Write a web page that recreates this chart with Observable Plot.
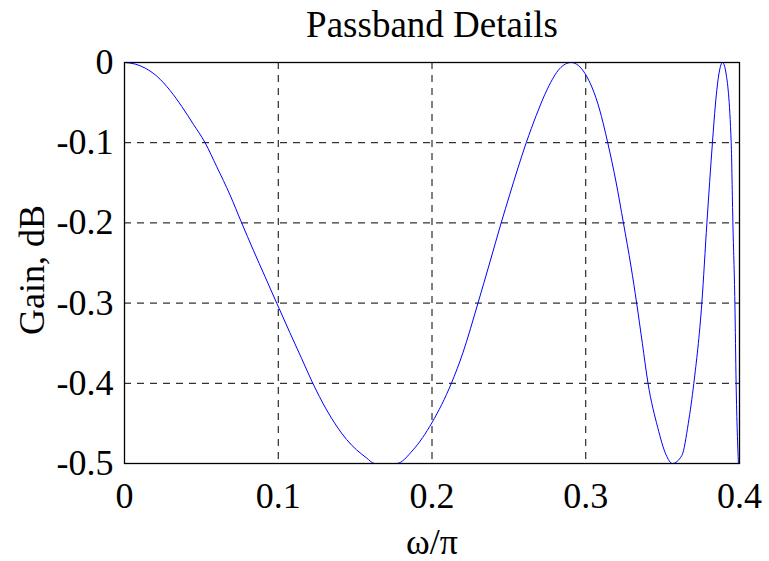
<!DOCTYPE html>
<html>
<head>
<meta charset="utf-8">
<script src="https://cdn.jsdelivr.net/npm/d3@7"></script>
<script src="https://cdn.jsdelivr.net/npm/@observablehq/plot@0.6"></script>
<style>
  html, body { margin: 0; padding: 0; background: #fff; }
</style>
</head>
<body>
<div id="chart"></div>
<script>
const titleText = "Passband Details";
const xLabelText = "ω/π";
const yLabelText = "Gain, dB";

const xTicks = [0, 0.1, 0.2, 0.3, 0.4];
const xTickLabels = ["0", "0.1", "0.2", "0.3", "0.4"];
const yTicks = [0, -0.1, -0.2, -0.3, -0.4, -0.5];
const yTickLabels = ["0", "-0.1", "-0.2", "-0.3", "-0.4", "-0.5"];
const xGrid = [0.1, 0.2, 0.3];
const yGrid = [-0.1, -0.2, -0.3, -0.4];

const omega = [
  0, 0.007, 0.0134, 0.021, 0.0297, 0.0373, 0.0448, 0.0524, 0.060, 0.0686,
  0.0762, 0.0838, 0.0914, 0.099, 0.1076, 0.1152, 0.122, 0.1314, 0.1444, 0.1574,
  0.1628, 0.1769, 0.1877, 0.2, 0.2126, 0.2201, 0.2299, 0.2375, 0.245, 0.2505,
  0.2613, 0.2678, 0.2753, 0.2829, 0.2905, 0.2996, 0.3089, 0.3143, 0.3197, 0.3245,
  0.3295, 0.3331, 0.3368, 0.3405, 0.3468, 0.3522, 0.3563, 0.3625, 0.3667, 0.3703,
  0.3755, 0.3788, 0.3824, 0.3843, 0.3868, 0.389, 0.3911, 0.3946, 0.3957,
  0.397, 0.3978, 0.3993
];
const gainDb = [
  0, -0.002, -0.007, -0.017, -0.035, -0.055, -0.077, -0.1, -0.13, -0.165,
  -0.2, -0.234, -0.267, -0.3, -0.337, -0.369, -0.398, -0.433, -0.47, -0.493,
  -0.5, -0.5, -0.483, -0.449, -0.4, -0.362, -0.3, -0.25, -0.2, -0.165,
  -0.1, -0.066, -0.032, -0.008, 0, -0.014, -0.058, -0.1, -0.149, -0.2,
  -0.255, -0.3, -0.35, -0.4, -0.455, -0.489, -0.5, -0.49, -0.45, -0.4,
  -0.3, -0.2, -0.1, -0.053, -0.012, 0, -0.012, -0.1, -0.2,
  -0.3, -0.4, -0.5
];

const data = omega.map((w, i) => ({w, g: gainDb[i]}));
const serif = "'Liberation Serif', 'Times New Roman', serif";

const chart = Plot.plot({
  width: 769,
  height: 561,
  marginLeft: 124,
  marginRight: 30,
  marginTop: 62,
  marginBottom: 98,
  style: {fontFamily: serif, fontSize: "36px", background: "#fff", color: "#000"},
  x: {domain: [0, 0.4], ticks: xTicks, tickFormat: (d) => xTickLabels[xTicks.findIndex(t => Math.abs(t - d) < 1e-9)], tickSize: 0, tickPadding: 19, label: null},
  y: {domain: [-0.5, 0], ticks: yTicks, tickFormat: (d) => yTickLabels[yTicks.findIndex(t => Math.abs(t - d) < 1e-9)], tickSize: 0, tickPadding: 11, label: null},
  marks: [
    Plot.gridX(xGrid, {stroke: "#000", strokeOpacity: 1, strokeWidth: 1, strokeDasharray: "7,6"}),
    Plot.gridY(yGrid, {stroke: "#000", strokeOpacity: 1, strokeWidth: 1, strokeDasharray: "7,6"}),
    Plot.line(data, {x: "w", y: "g", stroke: "#0000ff", strokeWidth: 1, curve: "monotone-x", clip: true}),
    Plot.frame({stroke: "#000", strokeWidth: 1.3}),
    Plot.text([titleText], {frameAnchor: "top", dy: -26, textAnchor: "middle", lineAnchor: "bottom", fontSize: 37, fill: "#000"}),
    Plot.text([xLabelText], {frameAnchor: "bottom", dy: 90, textAnchor: "middle", lineAnchor: "bottom", fontSize: 36, fill: "#000"}),
    Plot.text([yLabelText], {frameAnchor: "left", dx: -81, dy: 7, rotate: -90, textAnchor: "middle", lineAnchor: "bottom", fontSize: 36, fill: "#000"})
  ]
});
document.getElementById("chart").appendChild(chart);
</script>
</body>
</html>
